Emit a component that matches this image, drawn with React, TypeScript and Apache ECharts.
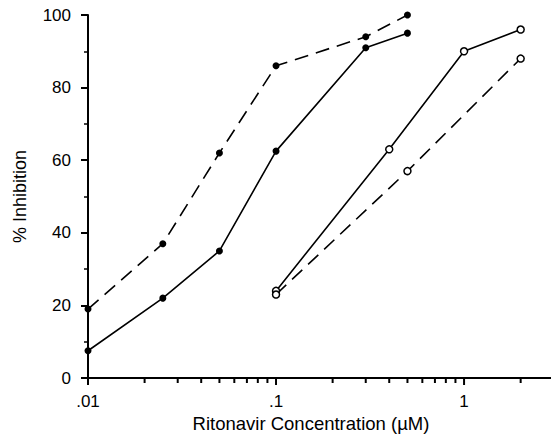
import React, { useEffect, useRef } from "react";
import * as echarts from "echarts";

const filledX = [0.01, 0.025, 0.05, 0.1, 0.3, 0.5];
const filledDashed = [19, 37, 62, 86, 94, 100];
const filledSolid = [7.5, 22, 35, 62.5, 91, 95];
const openSolidX = [0.1, 0.4, 1, 2];
const openSolid = [24, 63, 90, 96];
const openDashedX = [0.1, 0.5, 2];
const openDashed = [23, 57, 88];

const xMajorTicks = [0.01, 0.1, 1];
const xMinorTicks = [
  0.02, 0.03, 0.04, 0.05, 0.06, 0.07, 0.08, 0.09,
  0.2, 0.3, 0.4, 0.5, 0.6, 0.7, 0.8, 0.9, 2,
];
const yTicks = [0, 20, 40, 60, 80, 100];

const FONT = "Liberation Sans, Arial, Helvetica, sans-serif";
const INK = "#000";

function pairs(xs: number[], ys: number[]) {
  return xs.map((x, i) => [x, ys[i]]);
}

export default function App() {
  const ref = useRef<HTMLDivElement>(null);
  useEffect(() => {
    if (!ref.current) return;
    const chart = echarts.init(ref.current, undefined, { renderer: "svg" });
    const lineBase = (dashed: boolean, open: boolean) => ({
      type: "line" as const,
      symbol: "circle",
      symbolSize: 7,
      lineStyle: { color: INK, width: 1.6, type: dashed ? [14, 8] : "solid" },
      itemStyle: open
        ? { color: "#fff", borderColor: INK, borderWidth: 1.5 }
        : { color: INK, borderColor: INK, borderWidth: 0 },
      emphasis: { disabled: true },
      z: 3,
    });
    const tickData = [
      ...xMajorTicks.map((v) => [v, 0, 7]),
      ...xMinorTicks.map((v) => [v, 0, 5]),
    ];
    chart.setOption({
      animation: false,
      backgroundColor: "#fff",
      grid: { left: 88, right: 0, top: 15, bottom: 60, containLabel: false, outerBoundsMode: "none" },
      xAxis: {
        type: "log",
        logBase: 10,
        min: 0.01,
        max: 2.9,
        name: "Ritonavir Concentration (\u00b5M)",
        nameLocation: "middle",
        nameGap: 36,
        nameMoveOverlap: false,
        nameTextStyle: { fontFamily: FONT, fontSize: 18.5, color: INK, padding: [0, 17, 0, 0] },
        axisLine: { show: true, lineStyle: { color: INK, width: 2 } },
        axisTick: { show: false },
        axisLabel: {
          customValues: xMajorTicks,
          margin: 15,
          fontFamily: FONT,
          fontSize: 17,
          color: INK,
          formatter: (v: number) => (v < 1 ? String(v).replace(/^0/, "") : String(v)),
        },
        splitLine: { show: false },
        minorTick: { show: false },
      },
      yAxis: {
        type: "value",
        min: 0,
        max: 100,
        interval: 20,
        name: "% Inhibition",
        nameLocation: "middle",
        nameGap: 59,
        nameMoveOverlap: false,
        nameTextStyle: { fontFamily: FONT, fontSize: 18, color: INK },
        axisLine: { show: true, lineStyle: { color: INK, width: 2 } },
        axisTick: { show: true, length: 7, lineStyle: { color: INK, width: 2 } },
        minorTick: { show: true, splitNumber: 2, length: 4, lineStyle: { color: INK, width: 1.5 } },
        axisLabel: {
          margin: 17,
          fontFamily: FONT,
          fontSize: 17,
          color: INK,
          formatter: (v: number) => (yTicks.indexOf(v) >= 0 ? String(v) : ""),
        },
        splitLine: { show: false },
      },
      series: [
        {
          type: "custom",
          silent: true,
          clip: false,
          z: 5,
          data: tickData,
          renderItem: (params: any, api: any) => {
            const p = api.coord([api.value(0), api.value(1)]);
            const len = api.value(2);
            return {
              type: "line",
              shape: { x1: p[0], y1: p[1], x2: p[0], y2: p[1] + len },
              style: { stroke: INK, lineWidth: 2 },
            };
          },
        },
        { ...lineBase(true, false), data: pairs(filledX, filledDashed) },
        { ...lineBase(false, false), data: pairs(filledX, filledSolid) },
        { ...lineBase(false, true), data: pairs(openSolidX, openSolid) },
        { ...lineBase(true, true), data: pairs(openDashedX, openDashed) },
      ],
    });
    return () => chart.dispose();
  }, []);
  return (
    <div
      ref={ref}
      style={{ position: "fixed", left: 0, top: 0, width: 551, height: 438, background: "#fff" }}
    />
  );
}
